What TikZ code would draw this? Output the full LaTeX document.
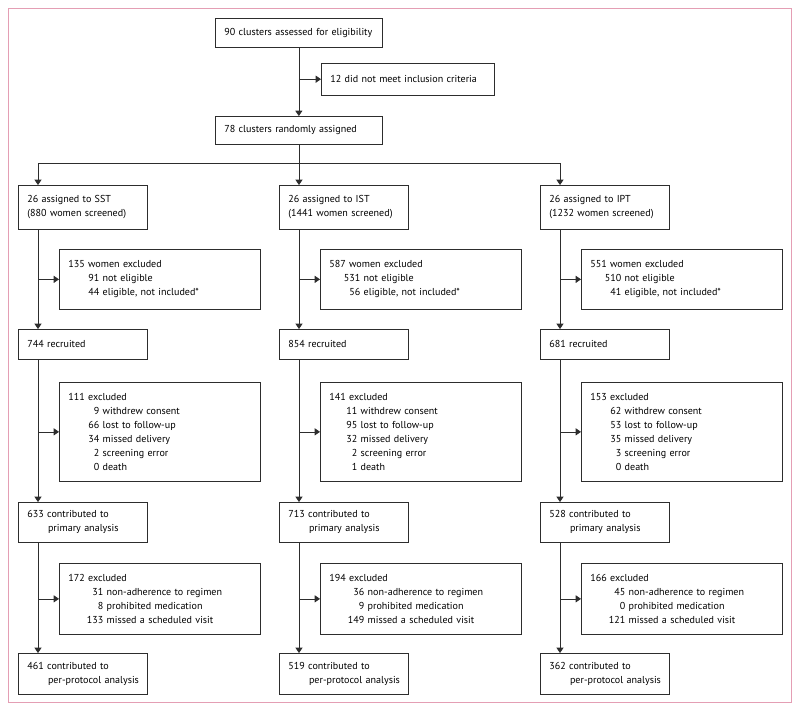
\documentclass[tikz,border=0pt]{standalone}
\usepackage{fontspec}
\setmainfont{PT Sans}
\usetikzlibrary{arrows.meta,calc}

\definecolor{framepink}{RGB}{228,158,180}
\definecolor{ink}{RGB}{45,45,45}
% one indented line of a list: number right aligned, then reason
\newcommand{\sub}[3][0.93cm]{\\\makebox[#1][r]{#2} #3}

\tikzset{
  box/.style={draw=ink, line width=0.6pt, anchor=north west, align=left,
    inner xsep=0.27cm, inner ysep=0pt, font=\fontsize{8.6}{11.9}\selectfont},
  topbox/.style={box, text width=4.47cm, minimum height=#1},
  mainbox/.style={box, text width=3.33cm, minimum height=#1},
  exclbox/.style={box, text width=5.49cm, minimum height=#1},
  flow/.style={draw=ink, line width=0.6pt},
  arr/.style={flow, -{Triangle[length=4.5pt,width=6pt]}}
}

\begin{document}
\begin{tikzpicture}[x=0.03cm, y=-0.03cm]
\useasboundingbox (0,0) rectangle (800,712);
\draw[framepink, line width=0.7pt] (8,8) rectangle (791,702);

% enrolment
\node[topbox=0.87cm] (elig) at (215,18) {\mbox{90 clusters assessed for eligibility}};
\node[box, text width=4.65cm, minimum height=0.95cm] (noinc) at (321,63) {\mbox{12 did not meet inclusion criteria}};
\node[topbox=0.84cm] (rand) at (215,116) {78 clusters randomly assigned};

% SST
\node[mainbox=1.32cm] (sst) at (18,185) {26 assigned to SST\\(880 women screened)};
\node[exclbox=1.8cm] (sst-scr) at (59,249) {135 women excluded\sub{91}{not eligible}\sub{44}{eligible, not included*}};
\node[mainbox=0.9cm] (sst-rec) at (18,329) {744 recruited};
\node[exclbox=2.97cm] (sst-drop) at (59,382) {111 excluded\sub{9}{withdrew consent}\sub{66}{lost to follow-up}\sub{34}{missed delivery}\sub{2}{screening error}\sub{0}{death}};
\node[mainbox=1.2cm] (sst-pri) at (18,502) {633 contributed to\\\hspace*{0.62cm}\mbox{primary analysis}};
\node[exclbox=2.13cm] (sst-ppx) at (59,563) {172 excluded\sub[1.05cm]{31}{non-adherence to regimen}\sub[1.05cm]{8}{prohibited medication}\sub[1.05cm]{133}{missed a scheduled visit}};
\node[mainbox=1.23cm] (sst-pp) at (18,653) {461 contributed to\\\hspace*{0.62cm}\mbox{per-protocol analysis}};

% IST
\node[mainbox=1.32cm] (ist) at (279,185) {26 assigned to IST\\\mbox{(1441 women screened)}};
\node[exclbox=1.8cm] (ist-scr) at (320,249) {587 women excluded\sub{531}{not eligible}\sub{56}{eligible, not included*}};
\node[mainbox=0.9cm] (ist-rec) at (279,329) {854 recruited};
\node[exclbox=2.97cm] (ist-drop) at (320,382) {141 excluded\sub[0.84cm]{11}{withdrew consent}\sub[0.84cm]{95}{lost to follow-up}\sub[0.84cm]{32}{missed delivery}\sub[0.84cm]{2}{screening error}\sub[0.84cm]{1}{death}};
\node[mainbox=1.2cm] (ist-pri) at (279,502) {713 contributed to\\\hspace*{0.62cm}\mbox{primary analysis}};
\node[exclbox=2.13cm] (ist-ppx) at (320,563) {194 excluded\sub[1.05cm]{36}{non-adherence to regimen}\sub[1.05cm]{9}{prohibited medication}\sub[1.05cm]{149}{missed a scheduled visit}};
\node[mainbox=1.23cm] (ist-pp) at (279,653) {519 contributed to\\\hspace*{0.62cm}\mbox{per-protocol analysis}};

% IPT
\node[mainbox=1.32cm] (ipt) at (540,185) {26 assigned to IPT\\\mbox{(1232 women screened)}};
\node[exclbox=1.8cm] (ipt-scr) at (581,249) {551 women excluded\sub{510}{not eligible}\sub{41}{eligible, not included*}};
\node[mainbox=0.9cm] (ipt-rec) at (540,329) {681 recruited};
\node[exclbox=2.97cm] (ipt-drop) at (581,382) {153 excluded\sub{62}{withdrew consent}\sub{53}{lost to follow-up}\sub{35}{missed delivery}\sub{3}{screening error}\sub{0}{death}};
\node[mainbox=1.2cm] (ipt-pri) at (540,502) {528 contributed to\\\hspace*{0.62cm}\mbox{primary analysis}};
\node[exclbox=2.13cm] (ipt-ppx) at (581,563) {166 excluded\sub[1.05cm]{45}{non-adherence to regimen}\sub[1.05cm]{0}{prohibited medication}\sub[1.05cm]{121}{missed a scheduled visit}};
\node[mainbox=1.23cm] (ipt-pp) at (540,653) {362 contributed to\\\hspace*{0.62cm}\mbox{per-protocol analysis}};

% connectors
\draw[arr] (elig.south) -- (rand.north);
\draw[arr] (elig.south |- noinc.west) -- (noinc.west);
\coordinate (split) at ($(rand.south)+(0,19)$);
\draw[flow] (rand.south) -- (split);

\foreach \c in {sst,ist,ipt} {
  \coordinate (\c-in) at ($(\c.north west)+(20,0)$);
  \coordinate (\c-a) at ($(\c.south west)+(20,0)$);
  \coordinate (\c-b) at ($(\c-rec.south west)+(20,0)$);
  \coordinate (\c-c) at ($(\c-pri.south west)+(20,0)$);
  \draw[arr] (split) -| (\c-in);
  \draw[arr] (\c-a) -- (\c-a |- \c-rec.north);
  \draw[arr] (\c-a |- \c-scr.west) -- (\c-scr.west);
  \draw[arr] (\c-b) -- (\c-b |- \c-pri.north);
  \draw[arr] (\c-b |- \c-drop.west) -- (\c-drop.west);
  \draw[arr] (\c-c) -- (\c-c |- \c-pp.north);
  \draw[arr] (\c-c |- \c-ppx.west) -- (\c-ppx.west);
}
\end{tikzpicture}
\end{document}
